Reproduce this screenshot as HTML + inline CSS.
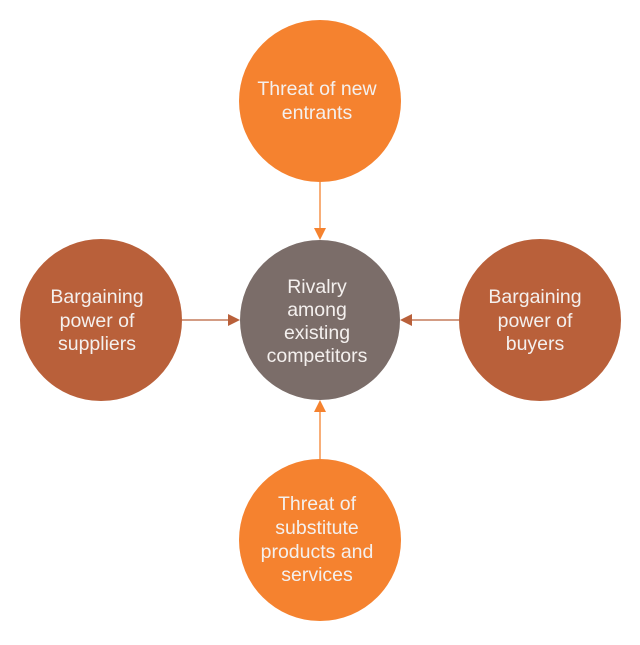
<!DOCTYPE html>
<html><head><style>body{margin:0;background:#fff}</style></head><body>
<svg width="640" height="640" xmlns="http://www.w3.org/2000/svg" font-family="Liberation Sans, sans-serif" font-size="19.5" fill="#f4f0ee" text-anchor="middle">
<circle cx="320" cy="101" r="81" fill="#F5822F"/>
<circle cx="320" cy="540" r="81" fill="#F5822F"/>
<circle cx="101" cy="320" r="81" fill="#B9603A"/>
<circle cx="540" cy="320" r="81" fill="#B9603A"/>
<circle cx="320" cy="320" r="80" fill="#7B6D69"/>
<g stroke-width="1.3">
<line x1="320" y1="182" x2="320" y2="230" stroke="#F5822F"/>
<polygon points="314,228 326,228 320,240" fill="#F5822F"/>
<line x1="320" y1="459" x2="320" y2="410" stroke="#F5822F"/>
<polygon points="314,412 326,412 320,400" fill="#F5822F"/>
<line x1="182" y1="320" x2="230" y2="320" stroke="#B9603A"/>
<polygon points="228,314 228,326 240,320" fill="#B9603A"/>
<line x1="459" y1="320" x2="410" y2="320" stroke="#B9603A"/>
<polygon points="412,314 412,326 400,320" fill="#B9603A"/>
</g>
<text x="317" y="95">Threat of new</text><text x="317" y="119">entrants</text>
<text x="317" y="293">Rivalry</text><text x="317" y="316">among</text><text x="317" y="339">existing</text><text x="317" y="362">competitors</text>
<text x="97" y="303">Bargaining</text><text x="97" y="327">power of</text><text x="97" y="350">suppliers</text>
<text x="535" y="303">Bargaining</text><text x="535" y="327">power of</text><text x="535" y="350">buyers</text>
<text x="317" y="510">Threat of</text><text x="317" y="534">substitute</text><text x="317" y="558">products and</text><text x="317" y="581">services</text>
</svg>
</body></html>
